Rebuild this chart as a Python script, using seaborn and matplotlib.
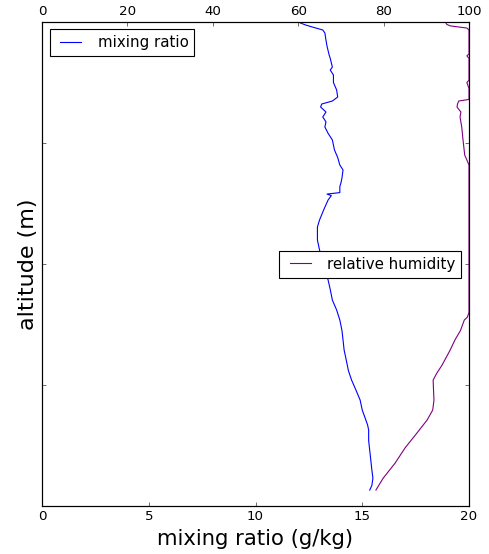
import numpy as np
import pandas as pd
import matplotlib
matplotlib.use("Agg")
import matplotlib.pyplot as plt
import seaborn as sns

# Profil-Daten
mr_alt = [132, 170, 230, 298, 380, 460, 540, 628, 670, 720, 793, 876, 960, 1041, 1120,
          1207, 1290, 1372, 1450, 1537, 1620, 1702, 1790, 1868, 1990, 2116, 2198,
          2306, 2364, 2450, 2529, 2565, 2578, 2590, 2640, 2669, 2711, 2777, 2818,
          2880, 2942, 3025, 3080, 3132, 3175, 3215, 3256, 3297, 3322, 3347, 3380,
          3438, 3500, 3562, 3603, 3628, 3700, 3727, 3800, 3851, 3909, 3934, 3959, 3975, 3992]
mixing_ratio = [15.35, 15.45, 15.5, 15.45, 15.4, 15.35, 15.3, 15.3, 15.25, 15.15, 15.0, 14.9,
                14.7, 14.5, 14.35, 14.25, 14.15, 14.1, 14.05, 13.95, 13.8, 13.6, 13.5,
                13.4, 13.2, 13.0, 12.9, 12.9, 13.0, 13.2, 13.4, 13.55, 13.35, 13.95,
                13.95, 14.0, 14.05, 14.1, 13.95, 13.85, 13.7, 13.6, 13.4, 13.25, 13.3,
                13.15, 13.3, 13.05, 13.1, 13.6, 13.85, 13.8, 13.65, 13.65, 13.5, 13.6,
                13.5, 13.45, 13.35, 13.3, 13.25, 13.15, 12.65, 12.35, 12.1]

rh_alt = [132, 230, 355, 479, 603, 711, 793, 820, 876, 950, 1041, 1100, 1165, 1290,
          1372, 1450, 1537, 1560, 1600, 2000, 2400, 2818, 2860, 2900, 3025, 3132,
          3215, 3256, 3297, 3322, 3347, 3360, 3450, 3500, 3520, 3700, 3720, 3735,
          3934, 3950, 3968, 3980, 3992]
rel_humidity = [78.2, 79.9, 82.7, 85.0, 87.8, 90.2, 91.5, 91.6, 91.8, 91.7, 91.6, 92.5,
                93.7, 95.6, 96.7, 98.0, 98.9, 99.6, 100, 100, 100, 100, 99.5, 99.0, 98.6,
                98.3, 97.9, 98.1, 97.2, 97.3, 97.6, 100, 100, 99.5, 100, 100, 99.5, 100,
                100, 99.5, 95.6, 94.8, 94.6]

df_mr = pd.DataFrame({"altitude": mr_alt, "mixing ratio": mixing_ratio})
df_rh = pd.DataFrame({"altitude": rh_alt, "relative humidity": rel_humidity})

plt.style.use("classic")
fig = plt.figure(figsize=(489 / 80, 554 / 80), dpi=80, facecolor="white")
ax = fig.add_axes([0.0859, 0.0866, 0.8732, 0.8737])

sns.lineplot(data=df_mr, x="mixing ratio", y="altitude", orient="y", sort=False,
             estimator=None, color="blue", linewidth=1, label="mixing ratio", ax=ax)
ax.set_xlim(0, 20)
ax.set_ylim(0, 4000)
ax.set_yticks([1000, 2000, 3000])
ax.set_yticklabels([])
ax.set_xlabel("mixing ratio (g/kg)", fontsize=19)
ax.set_ylabel("altitude (m)", fontsize=20, labelpad=0)
ax.tick_params(labelsize=12)
ax.legend(loc="upper left", fontsize=13.5, fancybox=False, frameon=True)

ax2 = ax.twiny()
sns.lineplot(data=df_rh, x="relative humidity", y="altitude", orient="y", sort=False,
             estimator=None, color="purple", linewidth=1, label="relative humidity", ax=ax2)
ax2.set_xlim(0, 100)
ax2.set_ylim(0, 4000)
ax2.set_xlabel("")
ax2.tick_params(labelsize=12)
ax2.legend(loc="center right", fontsize=13.5, fancybox=False, frameon=True)

plt.savefig("out.png", dpi=80, facecolor="white")
